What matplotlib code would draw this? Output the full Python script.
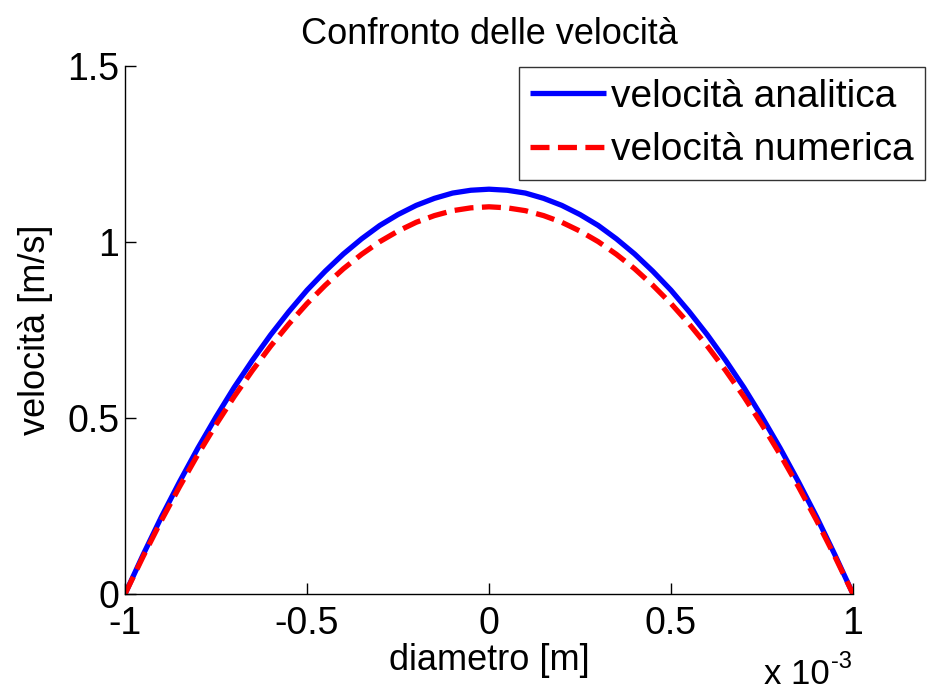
import matplotlib
matplotlib.use("Agg")
import matplotlib.pyplot as plt
from matplotlib.ticker import FuncFormatter, FixedLocator

plt.rcParams['font.family'] = ['Liberation Sans', 'DejaVu Sans']
plt.rcParams['axes.unicode_minus'] = False

# diameter positions (x 1e-3 m)
diametro = [-1.0, -0.95, -0.9, -0.85, -0.8, -0.75, -0.7, -0.65, -0.6, -0.55, -0.5,
            -0.45, -0.4, -0.35, -0.3, -0.25, -0.2, -0.15, -0.1, -0.05, 0.0,
            0.05, 0.1, 0.15, 0.2, 0.25, 0.3, 0.35, 0.4, 0.45, 0.5,
            0.55, 0.6, 0.65, 0.7, 0.75, 0.8, 0.85, 0.9, 0.95, 1.0]
vel_analitica = [0.0, 0.112, 0.219, 0.319, 0.414, 0.503, 0.587, 0.664, 0.736, 0.802, 0.863,
                 0.917, 0.966, 1.009, 1.047, 1.078, 1.104, 1.124, 1.139, 1.147, 1.150,
                 1.147, 1.139, 1.124, 1.104, 1.078, 1.047, 1.009, 0.966, 0.917, 0.863,
                 0.802, 0.736, 0.664, 0.587, 0.503, 0.414, 0.319, 0.219, 0.112, 0.0]
vel_numerica = [0.0, 0.107, 0.209, 0.305, 0.396, 0.481, 0.561, 0.635, 0.704, 0.767, 0.825,
                0.877, 0.924, 0.965, 1.001, 1.031, 1.056, 1.075, 1.089, 1.097, 1.100,
                1.097, 1.089, 1.075, 1.056, 1.031, 1.001, 0.965, 0.924, 0.877, 0.825,
                0.767, 0.704, 0.635, 0.561, 0.481, 0.396, 0.305, 0.209, 0.107, 0.0]
x_ticks = [-1, -0.5, 0, 0.5, 1]
y_ticks = [0, 0.5, 1, 1.5]
scale = 1e-3

x_m = [v * scale for v in diametro]

fig = plt.figure(figsize=(9.31, 6.92), dpi=100)
ax = fig.add_axes([125/931, 1 - 594/692, (853-125)/931, (594-66)/692])

ax.plot(x_m, vel_analitica, color='#0000ff', lw=3.8, solid_capstyle='butt',
        label='velocità analitica')
ax.plot(x_m, vel_numerica, color='#ff0000', lw=3.8, ls=(0, (3.6, 1.6)),
        label='velocità numerica')

ax.set_xlim(-1 * scale, 1 * scale)
ax.set_ylim(0, 1.5)
ax.xaxis.set_major_locator(FixedLocator([t * scale for t in x_ticks]))
ax.xaxis.set_major_formatter(FuncFormatter(lambda v, p: f"{v/scale:g}"))
ax.yaxis.set_major_locator(FixedLocator(y_ticks))
ax.yaxis.set_major_formatter(FuncFormatter(lambda v, p: f"{v:g}"))

for s in ['top', 'right']:
    ax.spines[s].set_visible(False)
for s in ['left', 'bottom']:
    ax.spines[s].set_linewidth(1.0)
ax.tick_params(direction='in', length=8, width=1.0, labelsize=27)
ax.tick_params(axis='x', pad=9)
ax.tick_params(axis='y', pad=4)

ax.set_title('Confronto delle velocità', fontsize=26, pad=16)
ax.set_xlabel('diametro [m]', fontsize=26, labelpad=0)
ax.set_ylabel('velocità [m/s]', fontsize=26, labelpad=10)
fig.text(830/931, 1 - 691/692, 'x 10', fontsize=25, ha='right', va='bottom')
fig.text(831/931, 1 - 668/692, '-3', fontsize=17, ha='left', va='baseline')

leg = fig.legend(loc='upper right', bbox_to_anchor=(925/931, 1 - 67/692),
                 fontsize=28, frameon=True, fancybox=False, edgecolor='black',
                 handlelength=1.95, handletextpad=0.12, borderpad=0.3,
                 labelspacing=0.45, borderaxespad=0)
leg.get_frame().set_linewidth(1.0)

fig.savefig('out.png', dpi=100)
